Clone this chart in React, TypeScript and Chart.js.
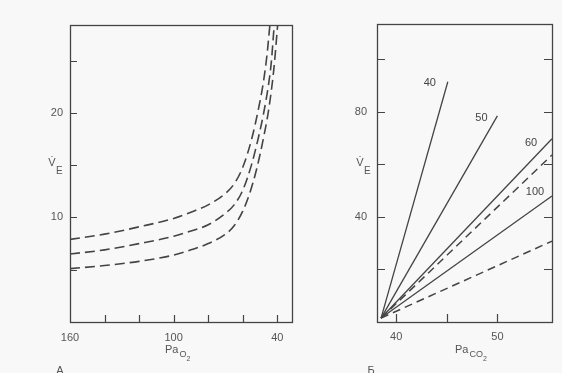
import React, { useEffect, useRef } from "react";
import { Chart, registerables } from "chart.js";
Chart.register(...registerables);

// ---------- Panel А : ventilation vs PaO2 ----------
const paO2TickValues = [160, 140, 120, 100, 80, 60, 40];
const paO2TickLabels = ["160", "", "", "100", "", "", "40"];
const veATickValues = [5, 10, 15, 20, 25];
const veATickLabels = ["", "10", "", "20", ""];

const upperPaO2 = [160, 140, 120, 100, 90, 80, 70, 65, 60, 55, 51, 48, 46, 44.3];
const upperVE = [7.9, 8.4, 9.1, 9.9, 10.5, 11.2, 12.3, 13.2, 14.8, 17.4, 20.3, 23.0, 25.5, 28.4];
const middlePaO2 = [160, 140, 120, 100, 90, 80, 70, 65, 60, 55, 51, 48, 45, 43.5, 41.8];
const middleVE = [6.5, 6.9, 7.5, 8.2, 8.7, 9.3, 10.4, 11.2, 12.6, 15.0, 17.6, 19.9, 22.8, 24.8, 28.4];
const lowerPaO2 = [160, 140, 120, 100, 90, 80, 70, 65, 60, 56, 52, 48, 45, 42, 39.8];
const lowerVE = [5.1, 5.4, 5.8, 6.4, 6.9, 7.5, 8.4, 9.2, 10.6, 12.3, 14.6, 17.6, 20.3, 24.2, 28.4];

// ---------- Panel Б : ventilation vs PaCO2 ----------
const paCO2TickValues = [40, 45, 50];
const paCO2TickLabels = ["40", "", "50"];
const veBTickValues = [20, 40, 60, 80, 100];
const veBTickLabels = ["", "40", "", "80", ""];

const lineNames = ["40", "50", "60", "", "100", ""];
const lineDashed = [false, false, false, true, false, true];
const lineStartPaCO2 = [38.5, 38.5, 38.5, 38.5, 38.5, 38.5];
const lineStartVE = [1.5, 1.5, 1.5, 1.5, 1.5, 1.5];
const lineEndPaCO2 = [45.1, 50.0, 55.4, 55.4, 55.4, 55.4];
const lineEndVE = [91.5, 78.5, 69.8, 63.6, 48.0, 30.8];

// ---------- styling ----------
const INK = "#444444";
const TEXT = "#555555";
const FONT = "'Liberation Sans', Arial, sans-serif";
const BG = "#f8f8f8";

const zip = (xs: number[], ys: number[]) => xs.map((x, i) => ({ x, y: ys[i] }));

const framePlugin = {
  id: "frameTicks",
  afterDatasetsDraw(chart: any, _args: any, opts: any) {
    const { ctx, chartArea: a, scales } = chart;
    const len = opts.len || 7;
    ctx.save();
    ctx.strokeStyle = INK;
    ctx.lineWidth = 1.3;
    ctx.strokeRect(Math.round(a.left) + 0.5, Math.round(a.top) + 0.5, Math.round(a.right - a.left), Math.round(a.bottom - a.top));
    ctx.lineWidth = 1.2;
    ctx.beginPath();
    for (const t of scales.x.ticks) {
      const px = Math.round(scales.x.getPixelForValue(t.value)) + 0.5;
      if (px <= a.left + 2 || px >= a.right - 2) continue;
      ctx.moveTo(px, a.bottom);
      ctx.lineTo(px, a.bottom - len);
    }
    for (const t of scales.y.ticks) {
      const py = Math.round(scales.y.getPixelForValue(t.value)) + 0.5;
      if (py <= a.top + 2 || py >= a.bottom - 2) continue;
      ctx.moveTo(a.left, py);
      ctx.lineTo(a.left + len, py);
      if (opts.right) {
        ctx.moveTo(a.right, py);
        ctx.lineTo(a.right - len, py);
      }
    }
    ctx.stroke();
    ctx.restore();
  },
};

function drawSubLabel(ctx: any, x: number, y: number, main: string, sub: string, sub2: string) {
  ctx.font = `11px ${FONT}`;
  ctx.fillText(main, x, y);
  const w = ctx.measureText(main).width;
  ctx.font = `9px ${FONT}`;
  ctx.fillText(sub, x + w + 1, y + 4);
  const w2 = ctx.measureText(sub).width;
  ctx.font = `7px ${FONT}`;
  ctx.fillText(sub2, x + w + 1 + w2, y + 8);
}

function drawVE(ctx: any, cx: number, base: number) {
  ctx.font = `11px ${FONT}`;
  ctx.textAlign = "center";
  ctx.fillText("V\u0307", cx, base);
  ctx.textAlign = "left";
  ctx.font = `10px ${FONT}`;
  ctx.fillText("E", cx + 4, base + 8);
}

const textPlugin = {
  id: "panelText",
  afterDraw(chart: any, _args: any, opts: any) {
    const { ctx } = chart;
    ctx.save();
    ctx.fillStyle = TEXT;
    ctx.textBaseline = "alphabetic";
    ctx.textAlign = "left";
    drawVE(ctx, opts.veX, 166);
    drawSubLabel(ctx, opts.paX, 353, "Pa", opts.gas, "2");
    ctx.font = `11px ${FONT}`;
    ctx.textAlign = "center";
    ctx.textBaseline = "top";
    ctx.fillText(opts.panel, opts.panelX, 365);
    if (opts.lineLabels) {
      const offs = [[-18, 1], [-16, 2], [-21, 4], [0, 0], [-17, -4], [0, 0]];
      const sx = chart.scales.x, sy = chart.scales.y;
      ctx.textBaseline = "middle";
      ctx.fillStyle = "#444";
      lineNames.forEach((name, i) => {
        if (!name) return;
        const px = sx.getPixelForValue(lineEndPaCO2[i]);
        const py = sy.getPixelForValue(lineEndVE[i]);
        ctx.fillText(name, px + offs[i][0], py + offs[i][1]);
      });
    }
    ctx.restore();
  },
};

function tickCfg(values: number[], labels: string[], padding: number) {
  return {
    afterBuildTicks: (s: any) => {
      s.ticks = values.map((v) => ({ value: v }));
    },
    ticks: {
      autoSkip: false,
      maxRotation: 0,
      padding,
      color: TEXT,
      font: { family: FONT, size: 11 },
      callback: (_v: any, i: number) => labels[i],
    },
    grid: { display: false, drawTicks: false },
    border: { display: false },
  };
}

export default function App() {
  const leftRef = useRef<HTMLCanvasElement>(null);
  const rightRef = useRef<HTMLCanvasElement>(null);

  useEffect(() => {
    const lineStyle = (data: any[]) => ({
      data,
      showLine: true,
      borderColor: INK,
      borderWidth: 1.6,
      borderDash: [10, 5],
      pointRadius: 0,
      fill: false,
      cubicInterpolationMode: "monotone" as const,
    });
    const left = new Chart(leftRef.current!, {
      type: "scatter",
      data: {
        datasets: [
          lineStyle(zip(upperPaO2, upperVE)),
          lineStyle(zip(middlePaO2, middleVE)),
          lineStyle(zip(lowerPaO2, lowerVE)),
        ],
      },
      options: {
        animation: false,
        responsive: false,
        devicePixelRatio: 1,
        layout: { padding: { left: 0, top: 25, right: 3, bottom: 0 } },
        plugins: {
          legend: { display: false },
          tooltip: { enabled: false },
          frameTicks: { len: 7, right: false },
          panelText: { veX: 52, paX: 165, gas: "O", panel: "А", panelX: 60 },
        } as any,
        scales: {
          x: {
            type: "linear",
            reverse: true,
            min: 31.5,
            max: 160,
            afterFit: (s: any) => { s.height = 51; },
            ...tickCfg(paO2TickValues, paO2TickLabels, 9),
          } as any,
          y: {
            type: "linear",
            min: 0,
            max: 28.4,
            afterFit: (s: any) => { s.width = 70; },
            ...tickCfg(veATickValues, veATickLabels, 7),
          } as any,
        },
      },
      plugins: [framePlugin, textPlugin],
    });

    const right = new Chart(rightRef.current!, {
      type: "scatter",
      data: {
        datasets: lineNames.map((_n, i) => ({
          data: [
            { x: lineStartPaCO2[i], y: lineStartVE[i] },
            { x: lineEndPaCO2[i], y: lineEndVE[i] },
          ],
          showLine: true,
          borderColor: INK,
          borderWidth: lineDashed[i] ? 1.5 : 1.3,
          borderDash: lineDashed[i] ? [8, 5] : [],
          pointRadius: 0,
          fill: false,
        })),
      },
      options: {
        animation: false,
        responsive: false,
        devicePixelRatio: 1,
        layout: { padding: { left: 0, top: 24, right: 10, bottom: 0 } },
        plugins: {
          legend: { display: false },
          tooltip: { enabled: false },
          frameTicks: { len: 8, right: true },
          panelText: { veX: 65, paX: 160, gas: "CO", panel: "Б", panelX: 76, lineLabels: true },
        } as any,
        scales: {
          x: {
            type: "linear",
            min: 38.1,
            max: 55.4,
            afterFit: (s: any) => { s.height = 51; },
            ...tickCfg(paCO2TickValues, paCO2TickLabels, 8),
          } as any,
          y: {
            type: "linear",
            min: 0,
            max: 113.5,
            afterFit: (s: any) => { s.width = 82; },
            ...tickCfg(veBTickValues, veBTickLabels, 10),
          } as any,
        },
      },
      plugins: [framePlugin, textPlugin],
    });

    return () => {
      left.destroy();
      right.destroy();
    };
  }, []);

  return (
    <div style={{ position: "fixed", left: 0, top: 0, width: 562, height: 373, background: BG, overflow: "hidden" }}>
      <canvas ref={leftRef} width={295} height={373} style={{ position: "absolute", left: 0, top: 0, display: "block" }} />
      <canvas ref={rightRef} width={267} height={373} style={{ position: "absolute", left: 295, top: 0, display: "block" }} />
    </div>
  );
}
